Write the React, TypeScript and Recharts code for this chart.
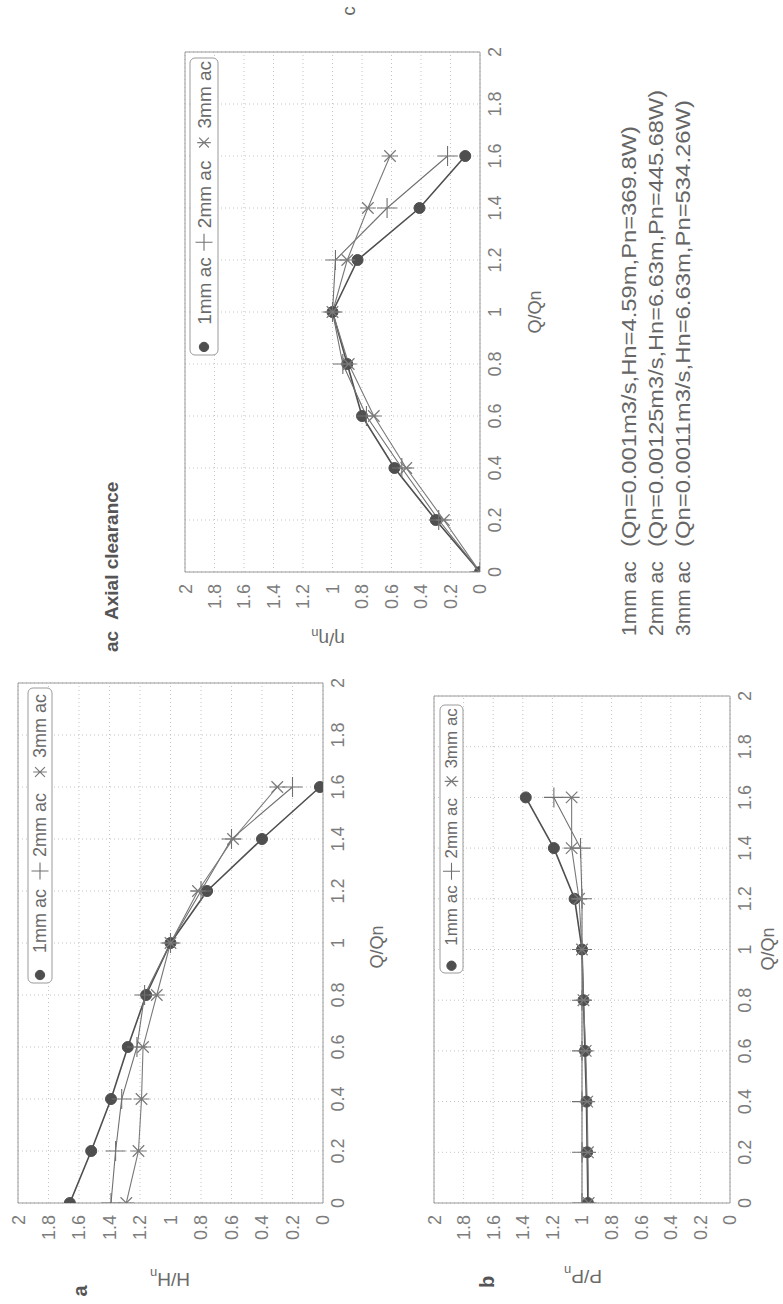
import React from 'react';
import { LineChart, Line, XAxis, YAxis, CartesianGrid, ReferenceLine } from 'recharts';

// Q/Qn positions of the measured points
const flowRatio = [0, 0.2, 0.4, 0.6, 0.8, 1, 1.2, 1.4, 1.6];
const axisTicks = [0, 0.2, 0.4, 0.6, 0.8, 1, 1.2, 1.4, 1.6, 1.8, 2];
const seriesNames = ['1mm ac', '2mm ac', '3mm ac'];

// a: H/Hn
const head1mm = [1.66, 1.52, 1.39, 1.28, 1.16, 1.0, 0.76, 0.4, 0.02];
const head2mm = [1.39, 1.36, 1.32, 1.22, 1.17, 1.0, 0.8, 0.6, 0.2];
const head3mm = [1.29, 1.21, 1.19, 1.18, 1.09, 1.0, 0.82, 0.59, 0.3];

// b: P/Pn
const power1mm = [0.96, 0.965, 0.97, 0.98, 0.99, 1.0, 1.05, 1.19, 1.38];
const power2mm = [1.0, 1.0, 1.0, 1.0, 1.0, 1.0, 1.0, 1.01, 1.19];
const power3mm = [0.955, 0.96, 0.965, 0.975, 0.99, 1.0, 1.02, 1.07, 1.07];

// c: eta/eta_n
const eff1mm = [0, 0.3, 0.58, 0.8, 0.9, 1.0, 0.83, 0.41, 0.1];
const eff2mm = [0, 0.28, 0.53, 0.77, 0.93, 1.0, 0.98, 0.63, 0.22];
const eff3mm = [0, 0.245, 0.5, 0.72, 0.89, 1.0, 0.9, 0.76, 0.61];

const noteLabels = ['1mm ac', '2mm ac', '3mm ac'];
const noteValues = [
  '(Qn=0.001m3/s,Hn=4.59m,Pn=369.8W)',
  '(Qn=0.00125m3/s,Hn=6.63m,Pn=445.68W)',
  '(Qn=0.0011m3/s,Hn=6.63m,Pn=534.26W)',
];

const FONT = '"Liberation Sans", Arial, Helvetica, sans-serif';
const TICK_COLOR = '#7c7c7c';
const FRAME = '#9a9a9a';
const lineStyles = [
  { color: '#4f4f4f', width: 1.6, kind: 'dot' },
  { color: '#707070', width: 1.1, kind: 'plus' },
  { color: '#7a7a7a', width: 1.1, kind: 'star' },
];

const toRows = (s1: number[], s2: number[], s3: number[]) =>
  flowRatio.map((q, i) => ({ q, s1: s1[i], s2: s2[i], s3: s3[i] }));

function Marker({ kind, cx, cy, color, size = 1 }: any) {
  if (cx == null || cy == null || isNaN(cx) || isNaN(cy)) return null;
  if (kind === 'dot') {
    return <circle cx={cx} cy={cy} r={5.5 * size} fill={color} stroke={color} strokeWidth={1} />;
  }
  if (kind === 'plus') {
    const r = 10 * size;
    return (
      <path d={`M${cx - r},${cy}H${cx + r}M${cx},${cy - r}V${cy + r}`} stroke={color} strokeWidth={1.1} fill="none" />
    );
  }
  const r = 8 * size;
  const d = r * 0.72;
  return (
    <path
      d={`M${cx - d},${cy - d}L${cx + d},${cy + d}M${cx - d},${cy + d}L${cx + d},${cy - d}M${cx},${cy - r}V${cy + r}`}
      stroke={color}
      strokeWidth={1.2}
      fill="none"
    />
  );
}

const dotFor = (i: number) => (p: any) => (
  <Marker key={`m${i}-${p.index}`} kind={lineStyles[i].kind} cx={p.cx} cy={p.cy} color={lineStyles[i].color} />
);

function Panel({ u0, v0, w, h, rows }: { u0: number; v0: number; w: number; h: number; rows: any[] }) {
  const yw = 70;
  return (
    <div style={{ position: 'absolute', left: u0 - yw, top: v0 - 10 }}>
      <LineChart
        width={yw + w + 20}
        height={10 + h + 30 + 10}
        data={rows}
        margin={{ top: 10, right: 20, bottom: 10, left: 0 }}
      >
        <CartesianGrid stroke="#c4c4c4" strokeDasharray="1 3" />
        <XAxis
          type="number"
          dataKey="q"
          domain={[0, 2]}
          ticks={axisTicks}
          height={30}
          tickLine={false}
          tickSize={0}
          tickMargin={8}
          axisLine={{ stroke: FRAME }}
          tick={{ fill: TICK_COLOR, fontSize: 18, fontFamily: FONT }}
          allowDataOverflow
        />
        <YAxis
          type="number"
          domain={[0, 2]}
          ticks={axisTicks}
          width={yw}
          tickLine={false}
          tickSize={0}
          tickMargin={12}
          axisLine={{ stroke: FRAME }}
          tick={{ fill: TICK_COLOR, fontSize: 18, fontFamily: FONT }}
          allowDataOverflow
        />
        <ReferenceLine y={2} stroke={FRAME} ifOverflow="visible" />
        <ReferenceLine x={2} stroke={FRAME} ifOverflow="visible" />
        {['s1', 's2', 's3'].map((key, i) => (
          <Line
            key={key}
            type="linear"
            dataKey={key}
            name={seriesNames[i]}
            stroke={lineStyles[i].color}
            strokeWidth={lineStyles[i].width}
            dot={dotFor(i)}
            activeDot={false}
            isAnimationActive={false}
          />
        ))}
      </LineChart>
    </div>
  );
}

function LegendBox({ u, v, w, h, fs }: { u: number; v: number; w: number; h: number; fs: number }) {
  const k = w / 295;
  const cy = v + h / 2;
  const items = [
    { m: 8, t: 30 },
    { m: 112, t: 126 },
    { m: 211, t: 225 },
  ];
  return (
    <g>
      <rect x={u} y={v} width={w} height={h} rx={5} fill="#fff" stroke={FRAME} strokeWidth={1} />
      {items.map((it, i) => (
        <g key={i}>
          <Marker kind={lineStyles[i].kind} cx={u + it.m * k} cy={cy} color={lineStyles[i].color} size={0.85} />
          <text x={u + it.t * k} y={cy} dy="0.35em" fontSize={fs} fill="#6a6a6a" fontFamily={FONT}>
            {seriesNames[i]}
          </text>
        </g>
      ))}
    </g>
  );
}

function YLabel({ u, v, main, sub }: { u: number; v: number; main: string; sub: string }) {
  return (
    <text
      x={u}
      y={v}
      transform={`rotate(-90 ${u} ${v})`}
      textAnchor="middle"
      dy="0.35em"
      fontSize={19}
      fill="#6a6a6a"
      fontFamily={FONT}
    >
      {main}
      <tspan fontSize={13} dy="4">{sub}</tspan>
    </text>
  );
}

export default function App() {
  const rowsA = toRows(head1mm, head2mm, head3mm);
  const rowsB = toRows(power1mm, power2mm, power3mm);
  const rowsC = toRows(eff1mm, eff2mm, eff3mm);
  const noteEnds = [1178, 1214, 1204];

  return (
    <div style={{ position: 'absolute', left: 0, top: 0, width: 783, height: 1304, background: '#fff', overflow: 'hidden' }}>
      <div
        style={{
          position: 'absolute',
          left: 0,
          top: 0,
          width: 1304,
          height: 783,
          transformOrigin: '0 0',
          transform: 'translate(0px, 1304px) rotate(-90deg)',
          fontFamily: FONT,
        }}
      >
        <Panel u0={101} v0={18} w={520} h={305} rows={rowsA} />
        <Panel u0={101} v0={434} w={507} h={296} rows={rowsB} />
        <Panel u0={732} v0={185} w={520} h={295} rows={rowsC} />

        <svg width={1304} height={783} style={{ position: 'absolute', left: 0, top: 0, pointerEvents: 'none' }}>
          <LegendBox u={321} v={28} w={295} h={24} fs={18} />
          <LegendBox u={331} v={440} w={268} h={23} fs={17} />
          <LegendBox u={949} v={190} w={297} h={28} fs={19} />

          <text x={13} y={80} dy="0.35em" textAnchor="middle" fontSize={20} fontWeight="bold" fill="#555" fontFamily={FONT}>a</text>
          <text x={22} y={487} dy="0.35em" textAnchor="middle" fontSize={20} fontWeight="bold" fill="#555" fontFamily={FONT}>b</text>
          <text x={1293} y={348} dy="0.35em" textAnchor="middle" fontSize={19} fill="#666" fontFamily={FONT}>c</text>

          <YLabel u={24} v={170} main="H/H" sub="n" />
          <YLabel u={27} v={583} main="P/P" sub="n" />
          <YLabel u={664} v={328} main="η/η" sub="n" />

          <text x={357} y={377} dy="0.35em" textAnchor="middle" fontSize={18} fill="#6a6a6a" fontFamily={FONT}>Q/Qn</text>
          <text x={355} y={768} dy="0.35em" textAnchor="middle" fontSize={18} fill="#6a6a6a" fontFamily={FONT}>Q/Qn</text>
          <text x={992} y={535} dy="0.35em" textAnchor="middle" fontSize={18} fill="#6a6a6a" fontFamily={FONT}>Q/Qn</text>

          <text x={652} y={111} dy="0.35em" fontSize={19} fontWeight="bold" fill="#555" fontFamily={FONT}>ac</text>
          <text x={684} y={111} dy="0.35em" fontSize={19} fontWeight="bold" fill="#555" fontFamily={FONT}>Axial clearance</text>

          {noteLabels.map((lab, i) => (
            <g key={lab}>
              <text x={668} y={629 + i * 27} dy="0.35em" fontSize={21} fill="#666" fontFamily={FONT}>
                {lab}
              </text>
              <text
                x={757}
                y={629 + i * 27}
                dy="0.35em"
                fontSize={21}
                fill="#666"
                fontFamily={FONT}
                textLength={noteEnds[i] - 757}
                lengthAdjust="spacingAndGlyphs"
              >
                {noteValues[i]}
              </text>
            </g>
          ))}
        </svg>
      </div>
    </div>
  );
}
